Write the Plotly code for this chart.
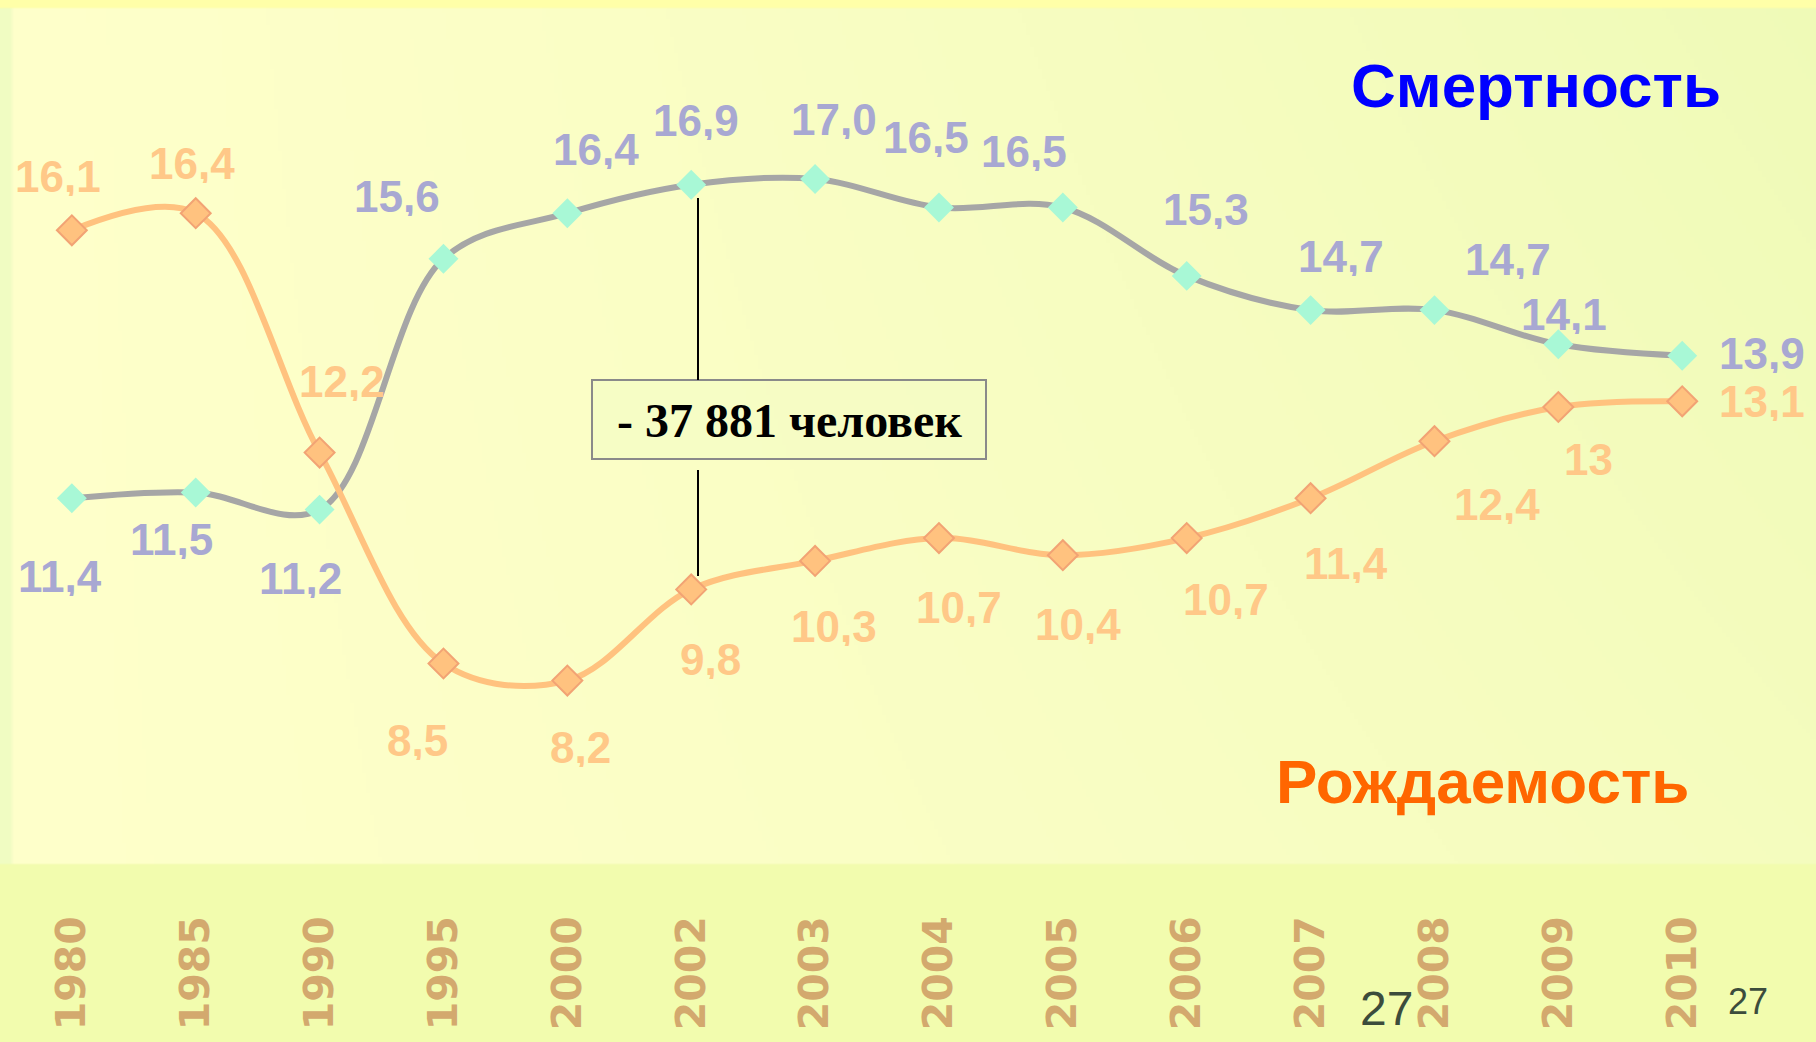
import base64
import struct
import zlib

import plotly.graph_objects as go

# ---------------- data ----------------
years = ["1980", "1985", "1990", "1995", "2000", "2002", "2003",
         "2004", "2005", "2006", "2007", "2008", "2009", "2010"]
death = [11.4, 11.5, 11.2, 15.6, 16.4, 16.9, 17.0, 16.5, 16.5, 15.3, 14.7, 14.7, 14.1, 13.9]
birth = [16.1, 16.4, 12.2, 8.5, 8.2, 9.8, 10.3, 10.7, 10.4, 10.7, 11.4, 12.4, 13.0, 13.1]
death_labels = ["11,4", "11,5", "11,2", "15,6", "16,4", "16,9", "17,0",
                "16,5", "16,5", "15,3", "14,7", "14,7", "14,1", "13,9"]
birth_labels = ["16,1", "16,4", "12,2", "8,5", "8,2", "9,8", "10,3",
                "10,7", "10,4", "10,7", "11,4", "12,4", "13", "13,1"]

# label offsets in pixels (dx right, dy down) - style only
death_offsets = [(-12, 78), (-24, 46), (-19, 68), (-46, -63), (29, -64), (5, -65), (19, -60),
                 (-13, -71), (-39, -57), (19, -67), (30, -54), (74, -51), (6, -30), (80, -3)]
birth_offsets = [(-14, -54), (-4, -50), (22, -72), (-26, 76), (13, 66), (19, 70), (19, 65),
                 (20, 69), (15, 69), (39, 61), (35, 65), (63, 63), (30, 52), (80, 0)]

W, H = 1816, 1042
M_T, M_B = 8, 179
PLOT_BOTTOM = H - M_B
PLOT_H = H - M_T - M_B


# ---------------- background gradient (png data uri) ----------------
def lerp(a, b, t):
    return tuple(int(round(a[i] + (b[i] - a[i]) * t)) for i in range(3))


def make_bg():
    gw, gh = 454, 521  # 4 px per column, 2 px per row
    yellow = (0xFE, 0xFF, 0xCA)
    green = (0xEF, 0xFA, 0xB7)
    band = (0xF2, 0xFC, 0xAE)
    strip = (0xFF, 0xFF, 0xA8)
    rows = []
    for j in range(gh):
        py = j * H / gh
        row = bytearray([0])
        for i in range(gw):
            px = i * W / gw
            if py < 8:
                c = strip
            elif py >= PLOT_BOTTOM:
                c = band
            elif px < 9:
                c = (0xF0, 0xFC, 0xC2)
            else:
                xf = px / W
                yf = (py - M_T) / PLOT_H
                t = min(1.0, max(0.0, (xf ** 1.2) * (0.65 + 0.35 * (1 - yf))))
                c = lerp(yellow, green, t)
            row.extend(c)
        rows.append(bytes(row))
    raw = b"".join(rows)

    def chunk(tag, data):
        c = struct.pack(">I", len(data)) + tag + data
        return c + struct.pack(">I", zlib.crc32(tag + data) & 0xFFFFFFFF)

    png = b"\x89PNG\r\n\x1a\n"
    png += chunk(b"IHDR", struct.pack(">IIBBBBB", gw, gh, 8, 2, 0, 0, 0))
    png += chunk(b"IDAT", zlib.compress(raw, 9))
    png += chunk(b"IEND", b"")
    return "data:image/png;base64," + base64.b64encode(png).decode()


def py_to_paper(py):
    return (PLOT_BOTTOM - py) / PLOT_H


fig = go.Figure()

fig.add_trace(go.Scatter(
    x=years, y=death, mode="lines+markers", name="Смертность",
    line=dict(color="#A6A6A6", width=6, shape="spline", smoothing=1.0),
    marker=dict(symbol="diamond", size=23, color="#A8F8D6", line=dict(width=0)),
    hoverinfo="x+y",
))
fig.add_trace(go.Scatter(
    x=years, y=birth, mode="lines+markers", name="Рождаемость",
    line=dict(color="#FFC27F", width=6, shape="spline", smoothing=1.0),
    marker=dict(symbol="diamond", size=23, color="#FFC27F", line=dict(width=2, color="#F2A374")),
    hoverinfo="x+y",
))

annotations = []
label_font = dict(family="Liberation Sans, Arial, sans-serif", size=44, weight="bold")
for i, (v, t, (dx, dy)) in enumerate(zip(death, death_labels, death_offsets)):
    annotations.append(dict(x=i, y=v, xref="x", yref="y", text=t, showarrow=False,
                            xshift=dx, yshift=-dy, height=40,
                            font=dict(label_font, color="#A8A8D2")))
for i, (v, t, (dx, dy)) in enumerate(zip(birth, birth_labels, birth_offsets)):
    annotations.append(dict(x=i, y=v, xref="x", yref="y", text=t, showarrow=False,
                            xshift=dx, yshift=-dy, height=40,
                            font=dict(label_font, color="#FFC888")))

sans = "Liberation Sans, Arial, sans-serif"
annotations += [
    dict(xref="paper", yref="paper", x=1536 / W, y=py_to_paper(86), text="Смертность",
         showarrow=False, xanchor="center", yanchor="middle",
         font=dict(family=sans, size=62, weight="bold", color="#0000FF")),
    dict(xref="paper", yref="paper", x=1482 / W, y=py_to_paper(781), text="Рождаемость",
         showarrow=False, xanchor="center", yanchor="middle",
         font=dict(family=sans, size=62, weight="bold", color="#FF6600")),
    dict(xref="paper", yref="paper", x=789 / W, y=py_to_paper(420), text="- 37 881 человек",
         showarrow=False, xanchor="center", yanchor="middle",
         font=dict(family="Liberation Serif, Times New Roman, serif", size=48, weight="bold",
                   color="#000000")),
    dict(xref="paper", yref="paper", x=1386 / W, y=py_to_paper(1008), text="27",
         showarrow=False, xanchor="center", yanchor="middle",
         font=dict(family=sans, size=48, color="#3C4C3C")),
    dict(xref="paper", yref="paper", x=1748 / W, y=py_to_paper(1001), text="27",
         showarrow=False, xanchor="center", yanchor="middle",
         font=dict(family=sans, size=36, color="#3C4C3C")),
]

shapes = [
    # box around the difference label
    dict(type="rect", xref="paper", yref="paper",
         x0=592 / W, x1=986 / W, y0=py_to_paper(459), y1=py_to_paper(380),
         line=dict(color="#8A8A8A", width=2), fillcolor="rgba(244,251,196,0.6)", layer="above"),
    # connector line (upper segment)
    dict(type="line", xref="paper", yref="paper",
         x0=698 / W, x1=698 / W, y0=py_to_paper(198), y1=py_to_paper(380),
         line=dict(color="#000000", width=2)),
    # connector line (lower segment)
    dict(type="line", xref="paper", yref="paper",
         x0=698 / W, x1=698 / W, y0=py_to_paper(470), y1=py_to_paper(576),
         line=dict(color="#000000", width=2)),
]

fig.update_layout(
    width=W, height=H,
    margin=dict(l=0, r=0, t=M_T, b=M_B, autoexpand=False),
    paper_bgcolor="#F8FDC0",
    plot_bgcolor="rgba(0,0,0,0)",
    showlegend=False,
    annotations=annotations,
    shapes=shapes,
    images=[dict(source=make_bg(), xref="paper", yref="paper",
                 x=0, y=PLOT_BOTTOM / PLOT_H, sizex=1, sizey=H / PLOT_H,
                 xanchor="left", yanchor="top", sizing="stretch", layer="below")],
    xaxis=dict(type="category", range=[-0.58, 14.08], showgrid=False, zeroline=False,
               showline=False, ticks="", tickangle=-90, ticklabelstandoff=44,
               tickfont=dict(family="DejaVu Sans, sans-serif", size=41, weight="bold",
                             color="#D3A96E"),
               fixedrange=True),
    yaxis=dict(range=[5, 20], visible=False, fixedrange=True),
)

fig.write_html(
    "out.html",
    config={"displayModeBar": False},
    post_script="document.body.style.margin='0';document.body.style.overflow='hidden';",
)
